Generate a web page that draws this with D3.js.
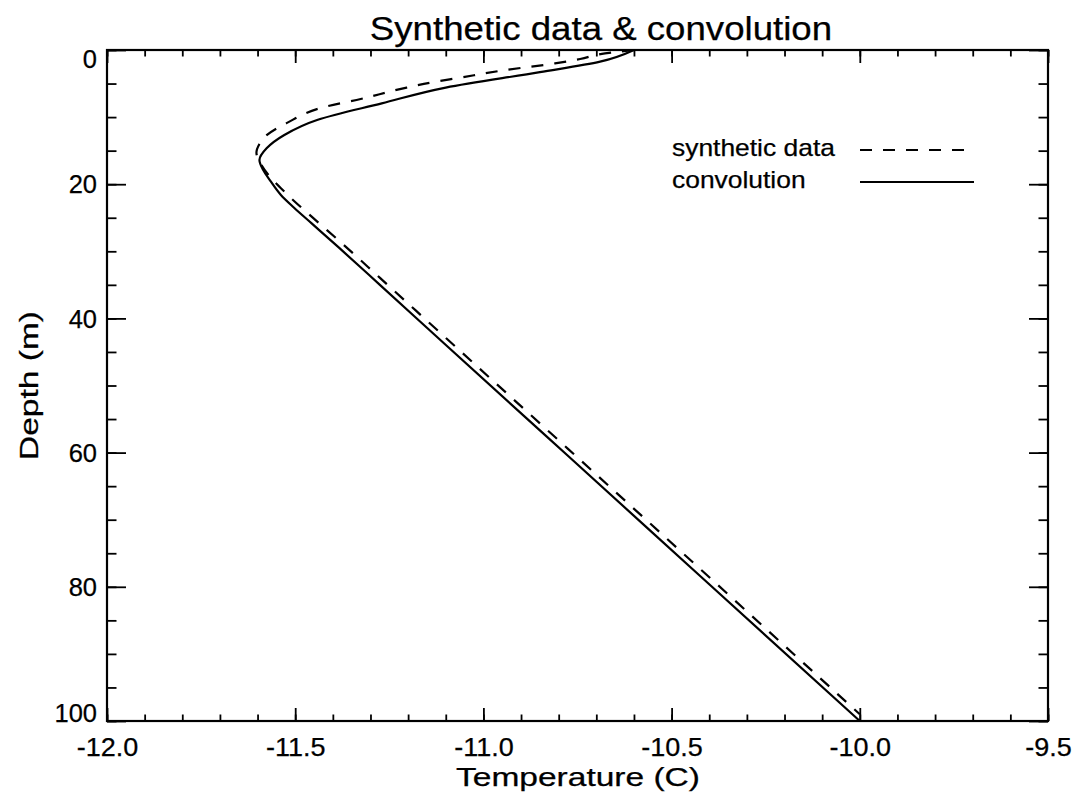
<!DOCTYPE html>
<html>
<head>
<meta charset="utf-8">
<script src="https://cdn.jsdelivr.net/npm/d3@7"></script>
<style>
  body { margin: 0; background: #fff; }
  text { font-family: "Liberation Sans", Arial, Helvetica, sans-serif; fill: #000; stroke: #000; stroke-width: 0.25px; }
</style>
</head>
<body>
<div id="chart"></div>
<script>
// Depth (m) and temperature (C)
const convDepth = [0, 1.74, 3.3, 5.6, 7.95, 10.4, 12.7, 14.65, 16.4, 17.9, 19.5, 21.6, 23.5, 25.8, 29.5, 35, 44, 54.6, 60.4, 78.5, 100];
const convTemp = [-10.6, -10.69, -10.85, -11.10, -11.27, -11.44, -11.53, -11.576, -11.595, -11.585, -11.566, -11.538, -11.503, -11.457, -11.383, -11.275, -11.099, -10.891, -10.777, -10.422, -10.0];

const synthDepth = [0, 0.5, 1.34, 2.0, 3.0, 4.2, 4.7, 5.6, 7.45, 8.4, 10.9, 12.9, 14.0, 15.3, 16.6, 18.9, 20.6, 22.5, 24.8, 28.5, 34, 43, 53.6, 59.4, 77.5, 99];
const synthTemp = [-10.6, -10.677, -10.743, -10.81, -10.943, -11.07, -11.124, -11.204, -11.337, -11.416, -11.523, -11.58, -11.595, -11.603, -11.595, -11.567, -11.538, -11.503, -11.457, -11.382, -11.274, -11.098, -10.890, -10.776, -10.421, -10.0];

const xMajorTicks = [-12.0, -11.5, -11.0, -10.5, -10.0, -9.5];
const yMajorTicks = [0, 20, 40, 60, 80, 100];

const width = 1084, height = 794;
const margin = { top: 50, right: 36, bottom: 73, left: 107 };
const plotW = width - margin.left - margin.right;
const plotH = height - margin.top - margin.bottom;

const svg = d3.select('#chart').append('svg')
    .attr('width', width)
    .attr('height', height);

const x = d3.scaleLinear().domain([-12, -9.5]).range([margin.left, margin.left + plotW]);
const y = d3.scaleLinear().domain([0, 100]).range([margin.top, margin.top + plotH]);

const xMinor = d3.range(-12, -9.5 + 1e-9, 0.1).map(v => +v.toFixed(1));
const yMinor = d3.range(0, 101, 5);

const xTickLen = 13, yTickLen = 19;

// the original lettering runs wider than Liberation Sans
function widen(sel, f) {
    sel.each(function () {
        const len = this.getComputedTextLength();
        d3.select(this).attr('textLength', len * f).attr('lengthAdjust', 'spacingAndGlyphs');
    });
}

// minor ticks
function minorX(axis) { return axis.tickValues(xMinor).tickFormat('').tickSizeOuter(0); }
function minorY(axis) { return axis.tickValues(yMinor).tickFormat('').tickSizeOuter(0); }

svg.append('g').attr('transform', `translate(0,${margin.top + plotH})`)
    .call(minorX(d3.axisTop(x)).tickSizeInner(xTickLen / 2));
svg.append('g').attr('transform', `translate(0,${margin.top})`)
    .call(minorX(d3.axisBottom(x)).tickSizeInner(xTickLen / 2));
svg.append('g').attr('transform', `translate(${margin.left},0)`)
    .call(minorY(d3.axisRight(y)).tickSizeInner(yTickLen / 2));
svg.append('g').attr('transform', `translate(${margin.left + plotW},0)`)
    .call(minorY(d3.axisLeft(y)).tickSizeInner(yTickLen / 2));

// major ticks
const xBottom = svg.append('g').attr('class', 'x-axis')
    .attr('transform', `translate(0,${margin.top + plotH})`)
    .call(d3.axisTop(x).tickValues(xMajorTicks).tickSizeInner(xTickLen).tickSizeOuter(0).tickFormat(d => d.toFixed(1)));
xBottom.selectAll('text')
    .attr('y', 35)
    .attr('dy', 0)
    .style('font-size', '25px')
    .call(widen, 1.08);

svg.append('g').attr('transform', `translate(0,${margin.top})`)
    .call(d3.axisBottom(x).tickValues(xMajorTicks).tickSizeInner(xTickLen).tickSizeOuter(0).tickFormat(''));

const yLeft = svg.append('g').attr('class', 'y-axis')
    .attr('transform', `translate(${margin.left},0)`)
    .call(d3.axisRight(y).tickValues(yMajorTicks).tickSizeInner(yTickLen).tickSizeOuter(0).tickFormat(d => String(d)));
yLeft.selectAll('text')
    .attr('x', -10)
    .attr('text-anchor', 'end')
    .attr('dy', d => d === 0 ? '0.68em' : (d === 100 ? '0em' : '0.35em'))
    .style('font-size', '25px')
    .call(widen, 1.02);

svg.append('g').attr('transform', `translate(${margin.left + plotW},0)`)
    .call(d3.axisLeft(y).tickValues(yMajorTicks).tickSizeInner(yTickLen).tickSizeOuter(0).tickFormat(''));

svg.selectAll('.tick line').attr('stroke', '#000').attr('stroke-width', 1.8);
svg.selectAll('.domain').remove();

// frame
svg.append('rect')
    .attr('x', margin.left).attr('y', margin.top)
    .attr('width', plotW).attr('height', plotH)
    .attr('fill', 'none').attr('stroke', '#000').attr('stroke-width', 2.2);

// curves
const line = d3.line().x(d => x(d[0])).y(d => y(d[1])).curve(d3.curveMonotoneY);

svg.append('path')
    .datum(synthTemp.map((t, i) => [t, synthDepth[i]]))
    .attr('d', line)
    .attr('fill', 'none').attr('stroke', '#000').attr('stroke-width', 2.2)
    .attr('stroke-dasharray', '12,11');

svg.append('path')
    .datum(convTemp.map((t, i) => [t, convDepth[i]]))
    .attr('d', line)
    .attr('fill', 'none').attr('stroke', '#000').attr('stroke-width', 2.2);

// legend
const legend = [
    { label: 'synthetic data', dash: '12,11', y: 150 },
    { label: 'convolution', dash: null, y: 182 }
];
legend.forEach(l => {
    svg.append('text').attr('x', 672).attr('y', l.y + 6)
        .style('font-size', '24px').text(l.label)
        .call(widen, 1.1);
    svg.append('line')
        .attr('x1', 860).attr('x2', 974)
        .attr('y1', l.y).attr('y2', l.y)
        .attr('stroke', '#000').attr('stroke-width', 2.2)
        .attr('stroke-dasharray', l.dash);
});

// titles
svg.append('text')
    .attr('x', 601).attr('y', 40)
    .attr('text-anchor', 'middle')
    .style('font-size', '33px')
    .text('Synthetic data & convolution')
    .call(widen, 1.11);

svg.append('text')
    .attr('x', 578).attr('y', 786)
    .attr('text-anchor', 'middle')
    .style('font-size', '25px')
    .text('Temperature (C)')
    .call(widen, 1.34);

svg.append('text')
    .attr('transform', `translate(38,${margin.top + plotH / 2}) rotate(-90)`)
    .attr('text-anchor', 'middle')
    .style('font-size', '25px')
    .text('Depth (m)')
    .call(widen, 1.34);
</script>
</body>
</html>
